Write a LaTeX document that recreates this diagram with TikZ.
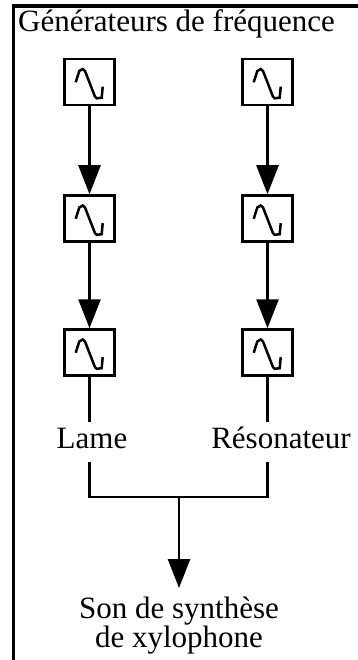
\documentclass[tikz,border=0pt]{standalone}
\usepackage{fontspec}
\setmainfont{Liberation Serif}
\usetikzlibrary{arrows.meta}
\begin{document}
\begin{tikzpicture}[x=1pt,y=-1pt,
  lbl/.style={font=\fontsize{31}{27}\selectfont},
  gen/.style={draw,line width=2.5pt,minimum width=50pt,minimum height=46pt,inner sep=0pt,
    path picture={
      \draw[line width=2.5pt,line join=miter,line cap=butt]
        ([shift={(-13.8,0.3)}]path picture bounding box.center)
        -- ([shift={(-10.2,-11)}]path picture bounding box.center)
        -- ([shift={(-6.8,-13)}]path picture bounding box.center)
        -- ([shift={(-4.5,-11)}]path picture bounding box.center)
        -- ([shift={(5.5,14.7)}]path picture bounding box.center)
        -- ([shift={(7.2,16.3)}]path picture bounding box.center)
        -- ([shift={(12.2,15.7)}]path picture bounding box.center)
        -- ([shift={(13.2,4.7)}]path picture bounding box.center);
    }},
  arr/.style={line width=2.5pt,-{Triangle[length=29pt,width=22pt]}},
  wire/.style={line width=2.5pt},
  side/.style={lbl,text height=22pt,text depth=10pt,inner sep=4pt}
]
\useasboundingbox (0,0) rectangle (357,660);
\draw[line width=3.5pt] (13.5,662) -- (13.5,6) -- (360,6);
\node[lbl,anchor=base west,inner sep=0pt] (title) at (18,32) {Générateurs de fréquence};
\node[gen] (L1) at (89.5,82) {};
\node[gen] (L2) at (89.5,218.5) {};
\node[gen] (L3) at (89.5,352.5) {};
\node[gen] (R1) at (267.5,82) {};
\node[gen] (R2) at (267.5,218.5) {};
\node[gen] (R3) at (267.5,352.5) {};
\draw[arr] (L1) -- (L2);
\draw[arr] (L2) -- (L3);
\draw[arr] (R1) -- (R2);
\draw[arr] (R2) -- (R3);
\node[side,anchor=base] (lame) at (92,448) {Lame};
\node[side,anchor=base] (res) at (281,448) {Résonateur};
\draw[wire] (L3.south) -- (L3.south |- lame.north);
\draw[wire] (R3.south) -- (R3.south |- res.north);
\coordinate (j) at (179,497);
\draw[wire] (L3.south |- lame.south) |- (j);
\draw[wire] (R3.south |- res.south) |- (j);
\node[lbl,align=center,anchor=north,inner xsep=0pt,inner ysep=9pt] (son) at (179,588) {Son de synthèse\\de xylophone};
\draw[arr] (j) -- (son.north);
\end{tikzpicture}
\end{document}
